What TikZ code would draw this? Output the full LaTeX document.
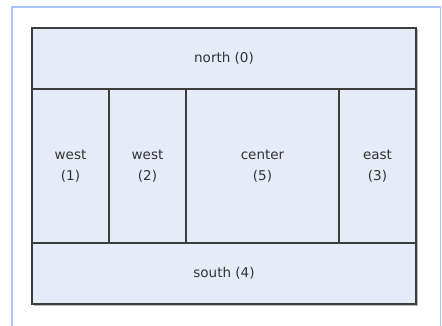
\documentclass[tikz,border=0pt]{standalone}
\usepackage{fontspec}
\setmainfont{DejaVu Sans}
\definecolor{panelfill}{HTML}{E6ECF7}
\definecolor{paneledge}{HTML}{3C3C3C}
\definecolor{frameblue}{HTML}{A8C4F8}
\definecolor{labelgray}{HTML}{333333}
\begin{document}
\begin{tikzpicture}[x=1pt,y=-1pt,
    region/.style={draw=paneledge,line width=1.3pt,fill=panelfill,text=labelgray,
        inner sep=0pt,outer sep=0pt,align=center,anchor=north west,
        font=\fontsize{13.5}{21}\selectfont}]
        \useasboundingbox (0,0) rectangle (442,326);
        % light frame round the layout
        \draw[frameblue,line width=1.6pt] (12,326) -- (12,7) -- (440.5,7) -- (440.5,326);
        % shadow under the panels
        \fill[gray!55] (33.5,29.5) rectangle (418,306);
        %
        \node[region,minimum width=384,minimum height=61] (north) at (32,28) {north (0)};
        \node[region,minimum width=77,minimum height=154] (west1) at (north.south west) {west\\(1)};
        \node[region,minimum width=77,minimum height=154] (west2) at (west1.north east) {west\\(2)};
        \node[region,minimum width=153,minimum height=154] (center) at (west2.north east) {center\\(5)};
        \node[region,minimum width=77,minimum height=154] (east) at (center.north east) {east\\(3)};
        \node[region,minimum width=384,minimum height=61] (south) at (west1.south west) {south (4)};
        \end{tikzpicture}
\end{document}
